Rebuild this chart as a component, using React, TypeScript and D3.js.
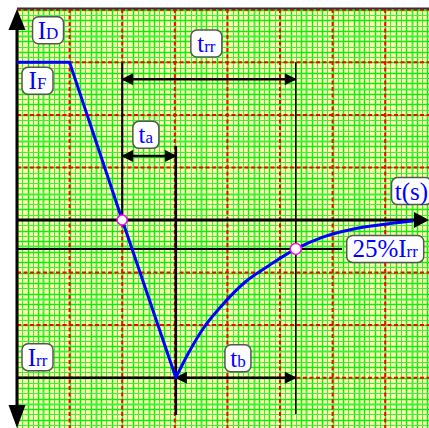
import React from "react";
import * as d3 from "d3";

// reverse recovery waveform of a diode, in grid units (1 unit = one red division)
const rampX = [0, 1, 2, 3.02];
const rampY = [3, 3, 0, -3];
const recoveryX = [3.02, 3.25, 3.55, 3.9, 4.35, 4.8, 5.3, 5.8, 6.4, 7.0, 7.51];
const recoveryY = [-3, -2.55, -2.05, -1.62, -1.17, -0.86, -0.55, -0.33, -0.17, -0.08, -0.02];

// key instants and currents
const tA = 2;
const tB = 3.02;
const tEnd = 5.3;
const iF = 3;
const iRR = -3;
const i25 = -0.55;

// boxed labels: main text, smaller trailing text
const labelMain = ["I", "I", "t", "t", "t(s)", "25%I", "I", "t"];
const labelSub = ["D", "F", "rr", "a", "", "rr", "rr", "b"];
const labelX = [0.59, 0.39, 3.6, 2.45, 7.5, 7.0, 0.39, 4.2];
const labelY = [3.61, 2.65, 3.36, 1.62, 0.55, -0.55, -2.61, -2.63];
const labelW = [31, 31, 31, 26, 40, 77, 31, 26];

const W = 429;
const H = 428;

export default function App() {
  const x = d3.scaleLinear().domain([0, 1]).range([17, 69.6]);
  const y = d3.scaleLinear().domain([0, 1]).range([220, 167.45]);

  const x0 = x(0);
  const yTop = 9;
  const xMax = x.invert(W);
  const yMin = y.invert(H);
  const yMaxG = y.invert(yTop);

  const minorX = d3.range(0, xMax, 0.1);
  const minorY = d3.range(Math.ceil(yMin * 10) / 10, yMaxG, 0.1);
  const majorX = d3.range(1, Math.floor(xMax) + 1);
  const majorY = d3.range(Math.ceil(yMin), Math.floor(yMaxG) + 1).filter((v) => v !== 0);

  const line = d3
    .line<[number, number]>()
    .x((d) => x(d[0]))
    .y((d) => y(d[1]));
  const curve = d3
    .line<[number, number]>()
    .x((d) => x(d[0]))
    .y((d) => y(d[1]))
    .curve(d3.curveMonotoneX);

  const ramp = rampX.map((v, i) => [v, rampY[i]] as [number, number]);
  const recovery = recoveryX.map((v, i) => [v, recoveryY[i]] as [number, number]);

  const step = (v: number) => Math.abs(Math.round(v * 10) % 10);
  const snap = (p: number) => Math.round(p) + 0.5;
  const minorStroke = (v: number) => (step(v) % 2 === 0 ? "#10ea10" : "#40ee40");
  const minorWidth = (v: number) => (step(v) === 5 ? 2 : step(v) % 2 === 0 ? 1.5 : 1);

  const arrowLine = (x1: number, y1: number, x2: number, y2: number, w: number, key: string) => (
    <line
      key={key}
      x1={x1}
      y1={y1}
      x2={x2}
      y2={y2}
      stroke="#000"
      strokeWidth={w}
      markerStart="url(#ah)"
      markerEnd="url(#ah)"
    />
  );

  return (
    <svg
      width={W}
      height={H}
      style={{ position: "absolute", left: 0, top: 0, background: "#fff" }}
      fontFamily="'Liberation Serif', 'DejaVu Serif', serif"
    >
      <defs>
        <clipPath id="grid">
          <rect x={x0} y={yTop} width={W - x0} height={H - yTop} />
        </clipPath>
        <marker
          id="ah"
          viewBox="0 0 12 12"
          refX="11"
          refY="6"
          markerWidth="13"
          markerHeight="12"
          markerUnits="userSpaceOnUse"
          orient="auto-start-reverse"
        >
          <path d="M0,0 L12,6 L0,12 Z" fill="#000" />
        </marker>
      </defs>

      <g clipPath="url(#grid)">
        <rect x={x0} y={yTop} width={W - x0} height={H - yTop} fill="#ffffb0" />
        {minorX.map((v) => (
          <line
            key={"mx" + v}
            x1={snap(x(v))}
            x2={snap(x(v))}
            y1={yTop}
            y2={H}
            stroke={minorStroke(v)}
            strokeWidth={minorWidth(v)}
          />
        ))}
        {minorY.map((v) => (
          <line
            key={"my" + v}
            x1={x0}
            x2={W}
            y1={snap(y(v))}
            y2={snap(y(v))}
            stroke={minorStroke(v)}
            strokeWidth={minorWidth(v)}
          />
        ))}
        {majorX.map((v) => (
          <line
            key={"Mx" + v}
            x1={x(v)}
            x2={x(v)}
            y1={yTop}
            y2={H}
            stroke="#ff0000"
            strokeWidth={2}
            strokeDasharray="4 2.5"
          />
        ))}
        {majorY.map((v) => (
          <line
            key={"My" + v}
            x1={x0}
            x2={W}
            y1={y(v)}
            y2={y(v)}
            stroke="#ff0000"
            strokeWidth={2}
            strokeDasharray="4 2.5"
          />
        ))}
      </g>

      {/* top frame */}
      <line x1={x0} x2={W} y1={8.5} y2={8.5} stroke="#333" strokeWidth={2} />

      {/* reference lines */}
      <line x1={x0} x2={x(6.18)} y1={y(i25)} y2={y(i25)} stroke="#000" strokeWidth={2} />
      <line x1={x0} x2={x(tB)} y1={y(iRR)} y2={y(iRR)} stroke="#000" strokeWidth={2.5} />
      <line x1={x(tA)} x2={x(tA)} y1={y(iF)} y2={y(0)} stroke="#000" strokeWidth={2} />
      <line x1={x(tB)} x2={x(tB)} y1={y(1.41)} y2={y(-3.71)} stroke="#000" strokeWidth={2.5} />
      <line x1={x(tEnd)} x2={x(tEnd)} y1={y(iF)} y2={y(-3.69)} stroke="#000" strokeWidth={1.5} />

      {/* time intervals */}
      {arrowLine(x(tA), y(2.68), x(tEnd), y(2.68), 2.5, "trr")}
      {arrowLine(x(tA), y(1.22), x(tB), y(1.22), 2.5, "ta")}
      {arrowLine(x(tB), y(iRR), x(tEnd), y(iRR), 2.5, "tb")}

      {/* axes */}
      <line x1={x0} x2={W - 12} y1={y(0)} y2={y(0)} stroke="#000" strokeWidth={3} />
      <path
        d={`M${W},${y(0)} L${W - 15},${y(0) - 8} L${W - 15},${y(0) + 8} Z`}
        fill="#000"
      />
      <line x1={x0} x2={x0} y1={yTop + 18} y2={H - 20} stroke="#000" strokeWidth={3} />
      <path d={`M${x0},${yTop} L${x0 - 8.5},${yTop + 21} L${x0 + 8.5},${yTop + 21} Z`} fill="#000" />
      <path d={`M${x0},${H} L${x0 - 8.5},${H - 23} L${x0 + 8.5},${H - 23} Z`} fill="#000" />

      {/* current waveform */}
      <path d={line(ramp) ?? ""} fill="none" stroke="#0000ff" strokeWidth={3} strokeLinejoin="round" />
      <path d={curve(recovery) ?? ""} fill="none" stroke="#0000ff" strokeWidth={3} strokeLinecap="round" />
      <circle cx={x(tA)} cy={y(0)} r={5} fill="#fff" stroke="#ff00ff" strokeWidth={1.5} />
      <circle cx={x(tEnd)} cy={y(i25)} r={5.5} fill="#fff" stroke="#ff00ff" strokeWidth={1.5} />

      {/* labels */}
      {labelMain.map((m, i) => {
        const cx = x(labelX[i]);
        const cy = y(labelY[i]);
        const w = labelW[i];
        return (
          <g key={"lab" + i}>
            <rect
              x={cx - w / 2}
              y={cy - 13.5}
              width={w}
              height={27}
              rx={6}
              fill="#fff"
              stroke="#555"
              strokeWidth={1.5}
            />
            <text x={cx} y={cy + 8.5} textAnchor="middle" fill="#0000ff" fontSize={25}>
              {m}
              {labelSub[i] && <tspan fontSize={17}>{labelSub[i]}</tspan>}
            </text>
          </g>
        );
      })}
    </svg>
  );
}
